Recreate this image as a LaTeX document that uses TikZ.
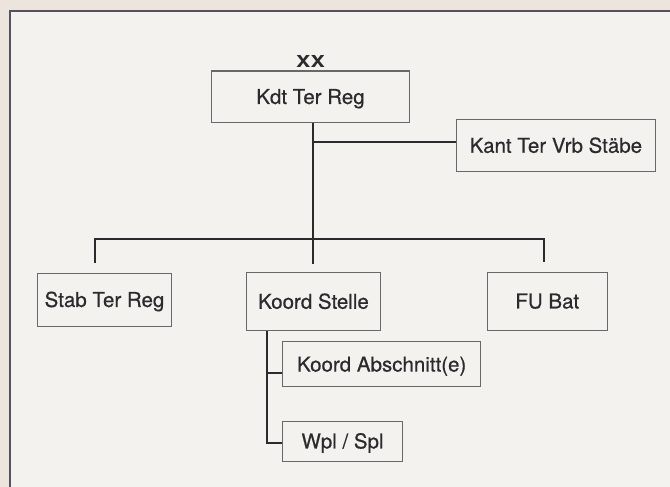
\documentclass[tikz,border=0pt]{standalone}
\usepackage{fontspec}
\setmainfont{TeX Gyre Heros}
\usetikzlibrary{positioning,calc}
\definecolor{paper}{HTML}{ECE5DD}
\definecolor{sheet}{HTML}{F3F2EF}
\definecolor{framecol}{HTML}{57505E}
\definecolor{boxline}{HTML}{686868}
\definecolor{ink}{HTML}{2C2A2C}
\begin{document}
\begin{tikzpicture}[x=1pt,y=-1pt,
    unit/.style={draw=boxline,line width=1.1pt,text=ink,inner sep=0pt,
      text height=14.5pt,text depth=0pt,font=\fontsize{20.5}{23}\selectfont\addfontfeatures{FakeBold=0.5}},
    link/.style={draw=ink,line width=2.2pt}]
  \useasboundingbox[fill=paper] (0,0) rectangle (670,487);
  \draw[framecol,fill=sheet,line width=1.6pt] (10,11) rectangle (690,510);
  \node[unit,minimum width=197.6pt,minimum height=51.3pt] (kdt) at (310.5,96.7) {Kdt Ter Reg};
  \node[above=2.4pt of kdt,inner sep=0pt,text=ink,font=\fontsize{16.5}{18}\bfseries] (rank) {\scalebox{1.3}[1]{XX}};
  \node[unit,minimum width=198.3pt,minimum height=52.4pt] (kant) at (555.9,145.5) {Kant Ter Vrb Stäbe};
  \node[unit,minimum width=134.4pt,minimum height=52.7pt] (stab) at (104.5,299.7) {Stab Ter Reg};
  \node[unit,minimum width=134pt,minimum height=57.6pt] (koord) at (313.5,301.5) {Koord Stelle};
  \node[unit,minimum width=120pt,minimum height=57.7pt] (fubat) at (547.3,301.2) {FU Bat};
  \node[unit,minimum width=198pt,minimum height=45pt,below=10.4pt of koord.south west,xshift=36.2pt,anchor=north west] (abschn) {Koord Abschnitt(e)};
  \node[unit,minimum width=119.6pt,minimum height=40pt,below=33.3pt of abschn.south west,anchor=north west] (wpl) {Wpl / Spl};
  \coordinate (trunk) at (313,264);
  \coordinate (bus) at (313,239);
  \coordinate (dropL) at (95,263);
  \coordinate (dropR) at (544.3,262);
  \coordinate (sub) at (267.3,443);
  \coordinate (kantjoin) at ($(kant.west)+(0,-3.8)$);
  \coordinate (abschjoin) at ($(abschn.west)+(0,8.5)$);
  \draw[link] (kdt.south -| trunk) -- (trunk);
  \draw[link] (kantjoin -| trunk) -- (kantjoin);
  \draw[link] (dropL) -- (dropL |- bus) -- (dropR |- bus) -- (dropR);
  \draw[link] (koord.south -| sub) -- (sub) -- (sub -| wpl.west);
  \draw[link] (abschjoin -| sub) -- (abschjoin);
\end{tikzpicture}
\end{document}
